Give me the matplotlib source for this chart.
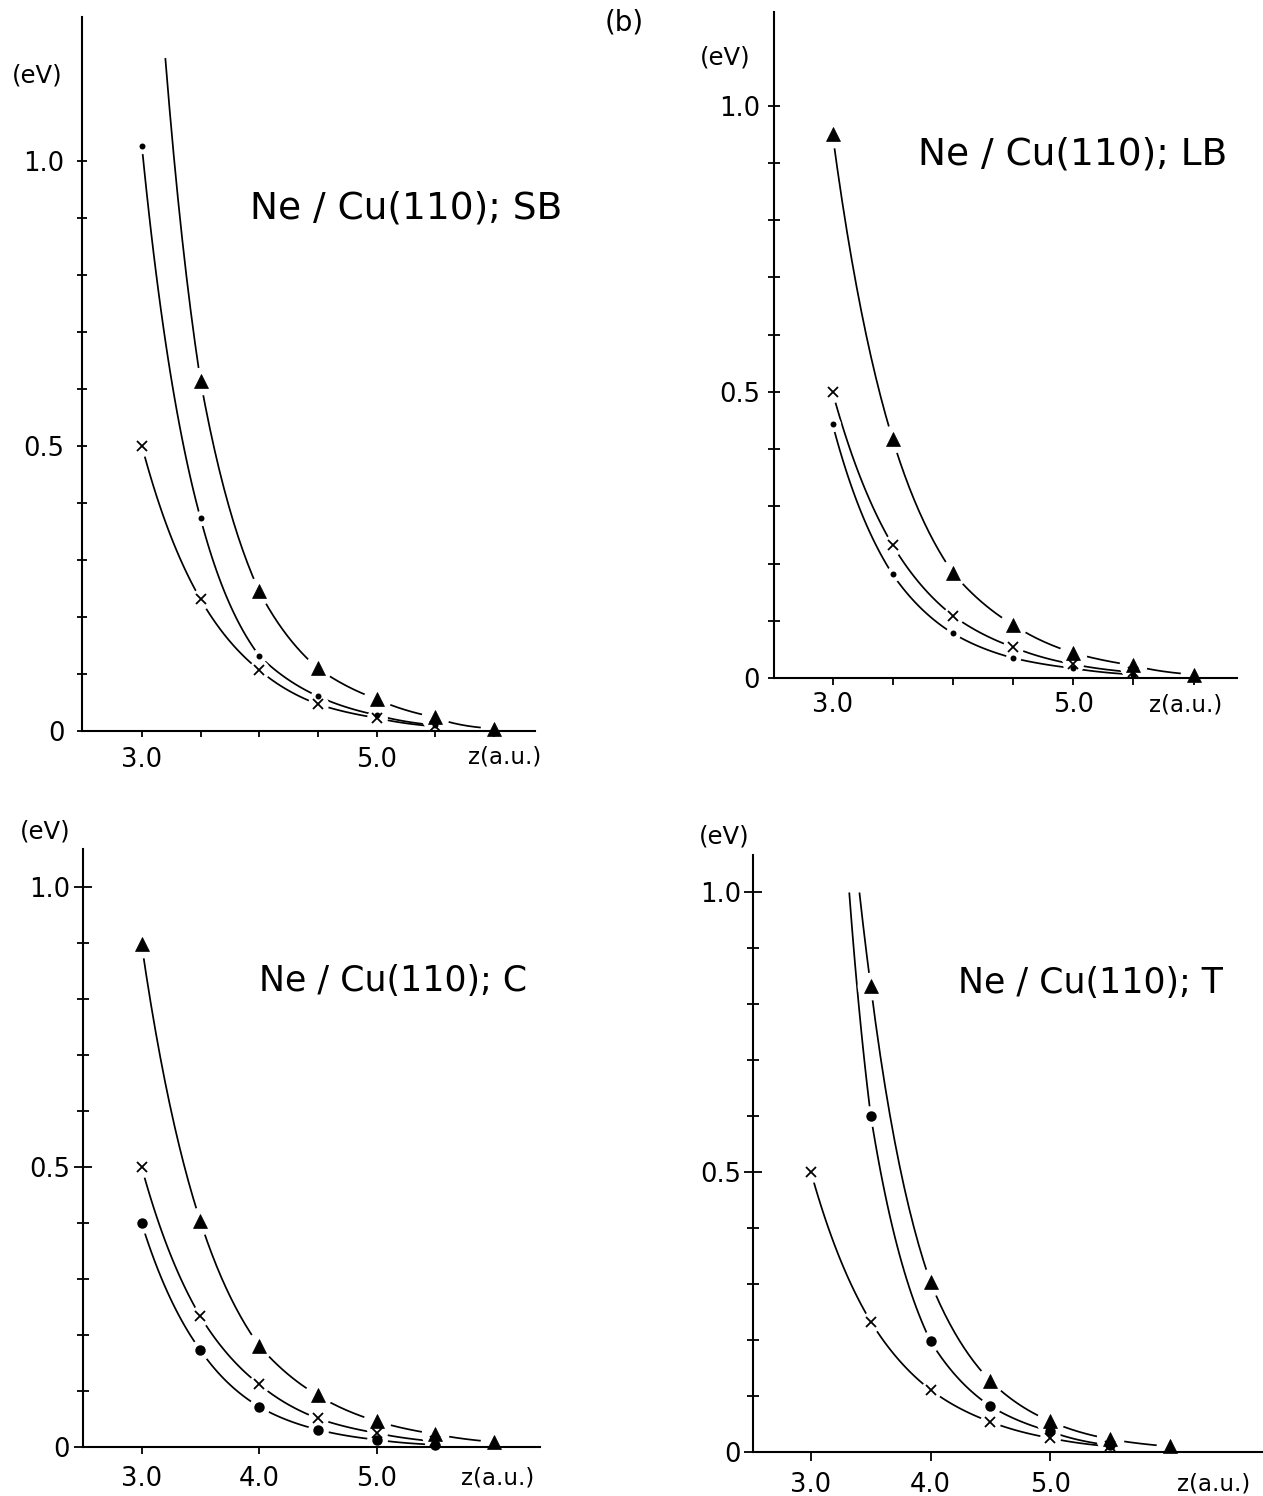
import numpy as np
import matplotlib
matplotlib.use("Agg")
import matplotlib.pyplot as plt

W, H = 1263, 1496

# Ne/Cu(110), SB site  (eV against z in a.u.)
sb_tri_z = [3.5, 4.0, 4.5, 5.0, 5.5, 6.0]
sb_tri = [0.614, 0.245, 0.110, 0.056, 0.024, 0.004]
sb_tri_top = (3.20, 1.18)           # where the upper curve leaves the frame
sb_dot_z = [3.0, 3.5, 4.0, 4.5, 5.0, 5.5]
sb_dot = [1.026, 0.373, 0.132, 0.061, 0.028, 0.010]
sb_cross_z = [3.0, 3.5, 4.0, 4.5, 5.0, 5.5]
sb_cross = [0.500, 0.231, 0.107, 0.047, 0.023, 0.008]

# Ne/Cu(110), LB site
lb_tri_z = [3.0, 3.5, 4.0, 4.5, 5.0, 5.5, 6.0]
lb_tri = [0.951, 0.417, 0.184, 0.093, 0.044, 0.022, 0.006]
lb_cross_z = [3.0, 3.5, 4.0, 4.5, 5.0, 5.5]
lb_cross = [0.500, 0.232, 0.109, 0.054, 0.024, 0.010]
lb_dot_z = [3.0, 3.5, 4.0, 4.5, 5.0, 5.5]
lb_dot = [0.444, 0.181, 0.078, 0.035, 0.017, 0.006]

# Ne/Cu(110), C site
c_tri_z = [3.0, 3.5, 4.0, 4.5, 5.0, 5.5, 6.0]
c_tri = [0.898, 0.403, 0.181, 0.092, 0.046, 0.023, 0.009]
c_cross_z = [3.0, 3.5, 4.0, 4.5, 5.0, 5.5]
c_cross = [0.500, 0.233, 0.112, 0.051, 0.025, 0.010]
c_dot_z = [3.0, 3.5, 4.0, 4.5, 5.0, 5.5]
c_dot = [0.400, 0.173, 0.072, 0.031, 0.013, 0.004]

# Ne/Cu(110), T site
t_tri_z = [3.5, 4.0, 4.5, 5.0, 5.5, 6.0]
t_tri = [0.832, 0.303, 0.127, 0.055, 0.023, 0.010]
t_tri_top = (3.405, 1.0)
t_dot_z = [3.5, 4.0, 4.5, 5.0, 5.5]
t_dot = [0.601, 0.198, 0.082, 0.037, 0.012]
t_dot_top = (3.32, 1.0)
t_cross_z = [3.0, 3.5, 4.0, 4.5, 5.0, 5.5]
t_cross = [0.500, 0.233, 0.111, 0.054, 0.025, 0.010]


def px(x, y):
    """pixel position -> figure fraction"""
    return x / W, 1 - y / H


def axes_px(fig, x0, y0, x1, y1):
    return fig.add_axes([x0 / W, 1 - y1 / H, (x1 - x0) / W, (y1 - y0) / H])


def decay_line(ax, zs, es):
    """smooth decaying line through the points (exponential between neighbours)"""
    zz, ee = [], []
    for i in range(len(zs) - 1):
        t = np.linspace(0, 1, 25, endpoint=False)
        zz.extend(zs[i] + t * (zs[i + 1] - zs[i]))
        ee.extend(es[i] * (es[i + 1] / es[i]) ** t)
    zz.append(zs[-1])
    ee.append(es[-1])
    ax.plot(zz, ee, color="k", lw=1.25, zorder=2, solid_capstyle="butt")


STYLE = {
    "tri": dict(marker="^", ms=10.5, mec="k", mfc="k", mew=0.5, gap=20),
    "cross": dict(marker="x", ms=7.5, mec="k", mfc="k", mew=1.3, gap=15),
    "dot": dict(marker="o", ms=4.3, mec="k", mfc="k", mew=0, gap=11),
    "bigdot": dict(marker="o", ms=7.5, mec="k", mfc="k", mew=0, gap=15),
}


def series(ax, zs, es, kind, top=None):
    st = dict(STYLE[kind])
    gap = st.pop("gap")
    lz, le = list(zs), list(es)
    if top is not None:
        lz = [top[0]] + lz
        le = [top[1]] + le
    decay_line(ax, lz, le)
    # white disc breaks the line around each symbol
    ax.plot(zs, es, ls="none", marker="o", ms=gap, mfc="white", mec="none",
            zorder=2.2, clip_on=False)
    ax.plot(zs, es, ls="none", zorder=3, clip_on=False, **st)


def frame(ax, xlim, ylim, xticks, xlabels, ypad, ylen, xpad, xlen, ylen_minor=None):
    ax.set_xlim(*xlim)
    ax.set_ylim(*ylim)
    ax.set_axisbelow(False)
    for s in ("top", "right"):
        ax.spines[s].set_visible(False)
    for s in ("left", "bottom"):
        ax.spines[s].set_linewidth(1.5)
    ax.set_yticks([0, 0.5, 1.0])
    ax.set_yticklabels(["0", "0.5", "1.0"])
    ax.set_yticks([0.1, 0.2, 0.3, 0.4, 0.6, 0.7, 0.8, 0.9], minor=True)
    ax.set_xticks(xticks)
    ax.set_xticklabels(xlabels)
    ax.tick_params(axis="y", which="major", direction="inout", length=ylen,
                   width=1.3, pad=ypad, labelsize=18.5)
    ax.tick_params(axis="y", which="minor", direction="inout",
                   length=ylen_minor or ylen, width=1.3)
    ax.tick_params(axis="x", which="major", direction="out", length=xlen,
                   width=1.3, pad=xpad, labelsize=18.5)
    ax.patch.set_alpha(0)


def xlabel(ax, zpos, dy):
    ax.annotate("z(a.u.)", xy=(zpos, 0), xycoords=("data", "axes fraction"),
                xytext=(0, -dy), textcoords="offset points",
                ha="center", va="center", fontsize=16.5, annotation_clip=False)


fig = plt.figure(figsize=(W / 100, H / 100), dpi=100)

half_ticks = [3.0, 3.5, 4.0, 4.5, 5.0, 5.5, 6.0]
half_labels = ["3.0", "", "", "", "5.0", "", ""]

# SB
ax = axes_px(fig, 82, 17, 535, 731)
frame(ax, (2.49, 6.35), (0, 1.252), half_ticks, half_labels,
      ypad=9, ylen=7, xpad=7, xlen=4.5)
series(ax, sb_cross_z, sb_cross, "cross")
series(ax, sb_dot_z, sb_dot, "dot")
series(ax, sb_tri_z, sb_tri, "tri", top=sb_tri_top)
xlabel(ax, 6.09, 18.5)

# LB
ax = axes_px(fig, 774, 12, 1237, 678)
frame(ax, (2.514, 6.36), (0, 1.164), half_ticks, half_labels,
      ypad=6, ylen=8, xpad=5, xlen=5)
series(ax, lb_dot_z, lb_dot, "dot")
series(ax, lb_cross_z, lb_cross, "cross")
series(ax, lb_tri_z, lb_tri, "tri")
xlabel(ax, 5.93, 19.5)

# C
ax = axes_px(fig, 83, 849, 540, 1447)
frame(ax, (2.502, 6.39), (0, 1.067), [3.0, 4.0, 5.0], ["3.0", "4.0", "5.0"],
      ypad=3, ylen=13, xpad=9, xlen=5, ylen_minor=8)
series(ax, c_dot_z, c_dot, "bigdot")
series(ax, c_cross_z, c_cross, "cross")
series(ax, c_tri_z, c_tri, "tri")
xlabel(ax, 6.03, 22)

# T
ax = axes_px(fig, 753, 855, 1263, 1452)
frame(ax, (2.515, 6.78), (0, 1.067), [3.0, 4.0, 5.0], ["3.0", "4.0", "5.0"],
      ypad=2, ylen=13, xpad=8, xlen=6.5, ylen_minor=8)
series(ax, t_cross_z, t_cross, "cross")
series(ax, t_dot_z, t_dot, "bigdot", top=t_dot_top)
series(ax, t_tri_z, t_tri, "tri", top=t_tri_top)
xlabel(ax, 6.37, 23)

# unit labels and panel captions
for (x, y) in [(37, 75), (725, 58), (45, 832), (724, 837)]:
    fig.text(*px(x, y), "(eV)", ha="center", va="center", fontsize=17.5)
fig.text(*px(624, 23), "(b)", ha="center", va="center", fontsize=20)

titles = [
    ("Ne / Cu(110); SB", 406, 219, 27),
    ("Ne / Cu(110); LB", 1073, 164, 27),
    ("Ne / Cu(110); C", 393, 991, 25),
    ("Ne / Cu(110); T", 1090, 993, 25),
]
for text, x, y, size in titles:
    fig.text(*px(x, y), text, ha="center", va="baseline", fontsize=size)

fig.savefig("out.png", dpi=100, facecolor="white")
